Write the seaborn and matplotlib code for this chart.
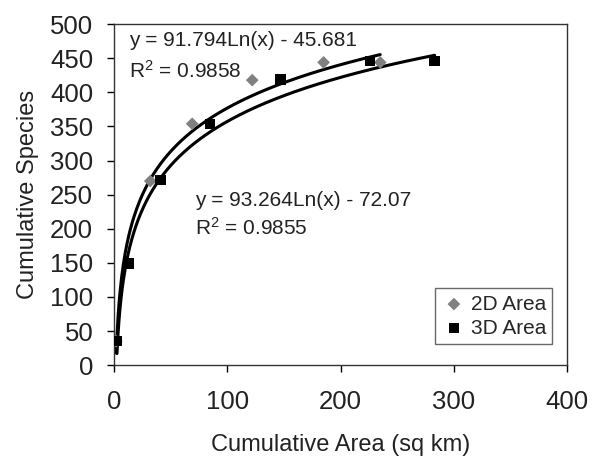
import matplotlib
matplotlib.use('AGG')

import matplotlib.pyplot as plt
import seaborn as sns
import numpy as np

# data
area_2d = [2, 32, 69, 122, 185, 235]
species_2d = [35, 270, 354, 418, 444, 444]
area_3d = [2.6, 13.5, 41, 85, 147, 226, 283]
species_3d = [35, 149, 272, 354, 419, 446, 446]

# logarithmic trend lines as printed on the chart: y = a*Ln(x) + b
fit_2d = (91.794, -45.681, 0.9858)
fit_3d = (93.264, -72.07, 0.9855)

sns.set_style('ticks')
plt.rcParams['font.family'] = ['Liberation Sans', 'DejaVu Sans']

fig = plt.figure(figsize=(5.97, 4.57), dpi=100)
ax = fig.add_axes([0.191, 0.201, 0.759, 0.746])

for xs, (a, b, _) in [(area_2d, fit_2d), (area_3d, fit_3d)]:
    grid = np.linspace(min(xs), max(xs), 300)
    sns.lineplot(x=grid, y=a * np.log(grid) + b, color='black', lw=2.2, ax=ax, zorder=2)

sns.scatterplot(x=area_2d, y=species_2d, marker='D', color='#808080', s=42,
                edgecolor='none', label='2D Area', ax=ax, zorder=3)
sns.scatterplot(x=area_3d, y=species_3d, marker='s', color='black', s=55,
                edgecolor='none', label='3D Area', ax=ax, zorder=4)

ax.set_xlim(0, 400)
ax.set_ylim(0, 500)
ax.set_xticks([0, 100, 200, 300, 400])
ax.set_yticks(range(0, 501, 50))
ax.tick_params(labelsize=18.5, direction='out', length=5, width=1, color='black',
               labelcolor='#222222')
ax.tick_params(axis='x', pad=13)
ax.tick_params(axis='y', pad=10)
for s in ax.spines.values():
    s.set_color('#333333')
    s.set_linewidth(1)
ax.set_xlabel('Cumulative Area (sq km)', fontsize=17, color='#222222', labelpad=14)
ax.set_ylabel('Cumulative Species', fontsize=17, color='#222222', labelpad=8)

txt = dict(fontsize=15, color='#222222', va='baseline')
ax.text(13, 468, 'y = %.3fLn(x) - %.3f' % (fit_2d[0], -fit_2d[1]), **txt)
ax.text(13, 422, '$\\mathregular{R^2}$ = %.4f' % fit_2d[2], **txt)
ax.text(71.5, 233, 'y = %.3fLn(x) - %.2f' % (fit_3d[0], -fit_3d[1]), **txt)
ax.text(71.5, 191, '$\\mathregular{R^2}$ = %.4f' % fit_3d[2], **txt)

leg = ax.legend(loc='lower right', bbox_to_anchor=(0.967, 0.062), fontsize=15,
                frameon=True, fancybox=False, handletextpad=0.2, borderpad=0.3,
                labelspacing=0.25, handlelength=1.2, borderaxespad=0)
leg.get_frame().set_edgecolor('#444444')
leg.get_frame().set_linewidth(1)

fig.savefig('out.png', dpi=100)
